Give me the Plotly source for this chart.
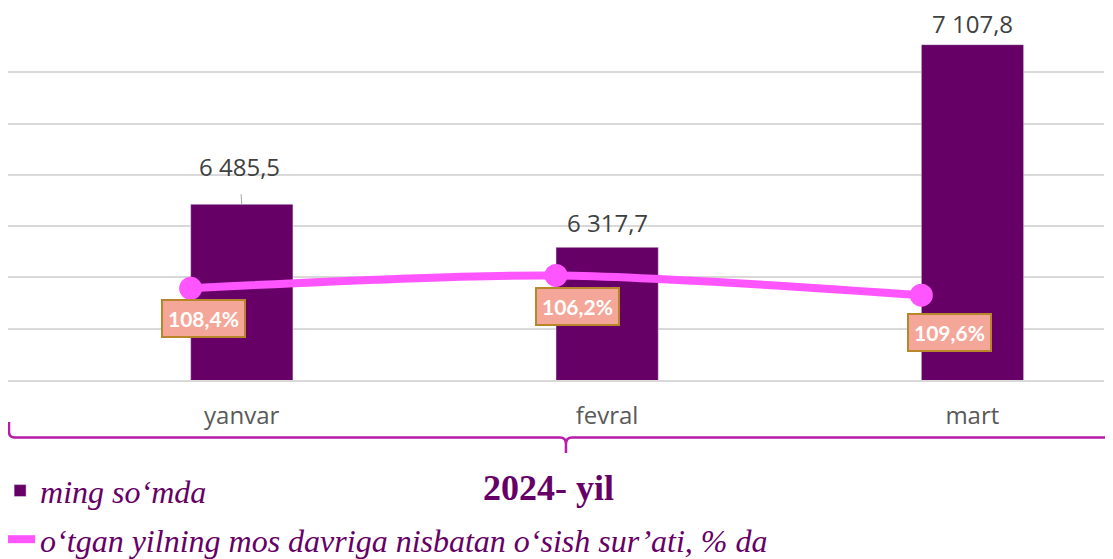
import plotly.graph_objects as go

oylar = ["yanvar", "fevral", "mart"]
summa = [6485.5, 6317.7, 7107.8]          # ming so'mda
osish = [108.4, 106.2, 109.6]             # %, o'tgan yilga nisbatan

BINAFSHA = "#660066"
PUSHTI = "#FF55FF"
BAR_W = 0.28


def fmt_son(v):
    return f"{v:,.1f}".replace(",", " ").replace(".", ",")


fig = go.Figure()

fig.add_trace(go.Bar(
    x=oylar, y=summa, name="ming so‘mda", legendgroup="a",
    marker_color=BINAFSHA, width=BAR_W, offset=0,
))

fig.add_trace(go.Scatter(
    x=oylar, y=osish, yaxis="y2", mode="lines", legendgroup="b",
    name="o‘tgan yilning mos davriga nisbatan o‘sish sur’ati, % da",
    line=dict(color=PUSHTI, width=8, shape="spline", smoothing=0.8),
))
fig.add_trace(go.Scatter(
    x=oylar, y=osish, yaxis="y2", mode="markers", showlegend=False,
    marker=dict(color=PUSHTI, size=23),
))

# qiymat yorliqlari
yshift_list = [40, 25, 21]
for i, (m, v) in enumerate(zip(oylar, summa)):
    if i == 0:
        fig.add_annotation(
            x=m, y=v, xref="x", yref="y", text=fmt_son(v), xshift=51,
            showarrow=True, arrowhead=0, arrowwidth=1, arrowcolor="#a6a6a6",
            ax=-2, ay=-38, startstandoff=10,
            font=dict(family="Open Sans", size=24, color="#404040"),
        )
    else:
        fig.add_annotation(
            x=m, y=v, xref="x", yref="y", text=fmt_son(v), xshift=51,
            yshift=yshift_list[i], showarrow=False, borderpad=0,
            font=dict(family="Open Sans", size=24, color="#404040"),
        )

pct_shift = [(13, -30), (21, -31), (28, -37)]
for (m, p), (dx, dy) in zip(zip(oylar, osish), pct_shift):
    fig.add_annotation(
        x=m, y=p, xref="x", yref="y2",
        text="<b>" + f"{p:.1f}".replace(".", ",") + "%</b>",
        xshift=dx, yshift=dy, showarrow=False,
        bgcolor="#F4A698", bordercolor="#B8862B", borderwidth=2, borderpad=5,
        font=dict(family="Lato", size=21, color="white"),
    )

fig.add_annotation(
    x=0.493, y=-0.301, xref="paper", yref="paper", text="<b>2024- yil</b>",
    showarrow=False, yanchor="middle",
    font=dict(family="Liberation Serif", size=36, color=BINAFSHA),
)

# qavs
qavs = ("M 0.0009 -0.117 L 0.0009 -0.1448 Q 0.0009 -0.1602 0.0064 -0.1602 "
        "L 0.5036 -0.1602 Q 0.5091 -0.1602 0.5091 -0.1783 L 0.5091 -0.2033 "
        "M 0.5091 -0.1783 Q 0.5091 -0.1602 0.5146 -0.1602 L 1.0082 -0.1602")
fig.add_shape(type="path", path=qavs, xref="paper", yref="paper",
              line=dict(color="#B81BA8", width=2.5))

fig.update_layout(
    width=1105, height=551,
    margin=dict(l=0, r=9, t=13, b=179, autoexpand=False),
    plot_bgcolor="white", paper_bgcolor="white",
    showlegend=True,
    legend=dict(
        x=-0.0072, y=-0.232, xanchor="left", yanchor="top",
        font=dict(family="Liberation Serif", size=32, color=BINAFSHA, style="italic"),
        tracegroupgap=4, itemwidth=30,
    ),
    xaxis=dict(
        type="category", range=[-0.5, 2.5], showgrid=False,
        tickfont=dict(family="Open Sans", size=24, color="#595959"),
        ticklabelshift=51, ticks="", ticklabelstandoff=13,
        showline=True, linecolor="#D9D9D9", linewidth=2,
    ),
    yaxis=dict(
        range=[5800, 7200], dtick=200, showticklabels=False,
        gridcolor="#D9D9D9", gridwidth=2, zeroline=False,
    ),
    yaxis2=dict(
        overlaying="y", range=[124.2, 62.37], visible=False, showgrid=False,
    ),
)

fig.write_html("out.html")
